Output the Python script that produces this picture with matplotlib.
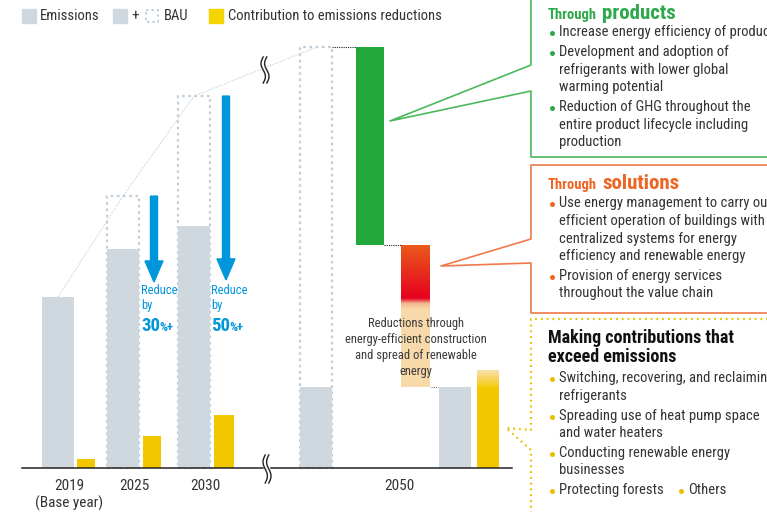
import numpy as np
import matplotlib
matplotlib.use("Agg")
import matplotlib.pyplot as plt
from matplotlib.patches import Rectangle
from matplotlib.colors import to_rgb

# --- data (index, 2019 emissions = 100) ---
years = ["2019", "2025", "2030", "2050"]
emissions = [100, 128, 141.5, 47.4]
bau = [None, 159, 217.5, 246]
contribution = [5.3, 18.7, 31, 57]
# 2050 waterfall of reductions from BAU
red_products = 115.6
red_solutions = 33.9
red_construction = 49.1
reduce_targets = ["30", "50"]

plt.rcParams["font.family"] = ["Roboto Condensed", "DejaVu Sans"]

GRAY = "#cfd8de"
YEL = "#f3c700"
BLUE = "#0096db"
GREEN = "#22a83a"
TXT = "#333333"

W, H = 767, 512
BASE = 468  # pixel row of the baseline
K = 1.71    # pixels per index unit

fig = plt.figure(figsize=(W / 100, H / 100), dpi=100)
ax = fig.add_axes([0, 0, 1, 1])
ax.set_xlim(0, W)
ax.set_ylim(-(H - BASE) / K, BASE / K)
ax.axis("off")

# bar columns (pixel x centres) for emission / contribution bars
gx = [58, 123, 194, 455]
yx = [86, 152, 224, 488]
gw = 32
yw = [18, 18, 20, 22]
bau_x = [None, 123, 194, 316]

# BAU dotted outlines
for i in range(1, 4):
    ax.bar(bau_x[i], bau[i], width=gw, fill=False, edgecolor="#c3ced7",
           linestyle=(0, (1.2, 1.6)), linewidth=1.6, zorder=1)

# trend line through BAU tops
tx = [gx[0]] + bau_x[1:]
ty = [emissions[0]] + bau[1:]
ax.plot(tx, ty, color="#c8d3dc", lw=0.9, ls=(0, (1, 1.2)), zorder=1)

# emission bars
ax.bar(gx[:3], emissions[:3], width=gw, color=GRAY, zorder=2)
ax.bar(bau_x[3], emissions[3], width=gw, color=GRAY, zorder=2)
ax.bar(gx[3], emissions[3], width=gw, color=GRAY, zorder=2)
# contribution bars
ax.bar(yx[:3], contribution[:3], width=yw[:3], color=YEL, zorder=2)
ax.bar(yx[3], emissions[3], width=yw[3], color=YEL, zorder=2)


def grad(c_list, n=200):
    # vertical gradient image from a list of (pos, colour) stops, top first
    pos = np.array([p for p, _ in c_list])
    cols = np.array([to_rgb(c) for _, c in c_list])
    t = np.linspace(0, 1, n)
    img = np.stack([np.interp(t, pos, cols[:, k]) for k in range(3)], axis=1)
    return img[:, None, :]


# 2050 yellow gradient top
ax.imshow(grad([(0, "#f9e0ae"), (1, "#f5cc10")]), aspect="auto",
          extent=(yx[3] - yw[3] / 2, yx[3] + yw[3] / 2, emissions[3], contribution[3]),
          zorder=2, interpolation="bilinear")

# waterfall 2050
top = bau[3]
ax.bar(370, -red_products, bottom=top, width=28, color=GREEN, zorder=2)
mid = top - red_products
low = mid - red_solutions
ax.imshow(grad([(0, "#ea5a1c"), (0.82, "#e6001e"), (0.9, "#f4b890"), (1, "#f8d9a9")]),
          aspect="auto", extent=(401, 430, low - 4, mid), zorder=2, interpolation="bilinear")
ax.bar(415.5, -(red_construction - 4), bottom=low - 4, width=29, color="#f8d9a9", zorder=2)

# dotted connectors
ax.plot([332, 356], [top, top], color="#222222", lw=0.8, ls=(0, (1, 1)), zorder=3)
ax.plot([384, 401], [mid, mid], color="#222222", lw=0.8, ls=(0, (1, 1)), zorder=3)
ax.plot([431, 438], [emissions[3], emissions[3]], color="#777777", lw=0.8, ls=(0, (1, 1)), zorder=3)

# blue arrows
arr_end = [108.8, 110]
for i, xa in zip([1, 2], [154, 226]):
    ax.arrow(xa, bau[i], 0, arr_end[i - 1] - bau[i], width=7, head_width=18,
             head_length=21 / K, length_includes_head=True, color=BLUE, zorder=3)

# baseline with break
ax.plot([22, 263], [0, 0], color="#222222", lw=1.1, zorder=3)
ax.plot([271, 512], [0, 0], color="#222222", lw=1.1, zorder=3)

# ---- overlay in pixel coordinates ----
ov = fig.add_axes([0, 0, 1, 1])
ov.set_xlim(0, W)
ov.set_ylim(H, 0)
ov.axis("off")
ov.patch.set_alpha(0)


def brk(x0, y0, h=26):
    yy = np.linspace(y0 - h / 2, y0 + h / 2, 60)
    wob = 2.2 * np.sin((yy - y0) / h * 2 * np.pi)
    ov.fill_betweenx(yy, x0 - 2 + wob, x0 + 2 + wob, color="white", zorder=4)
    ov.plot(x0 - 1.8 + wob, yy, color="#222222", lw=1, zorder=5)
    ov.plot(x0 + 1.8 + wob, yy, color="#222222", lw=1, zorder=5)


brk(267, 469, 28)
brk(265, 70, 26)

# legend
ov.add_patch(Rectangle((22, 9), 14, 14, color=GRAY))
ov.text(40, 16, "Emissions", fontsize=10.5, color=TXT, va="center")
ov.add_patch(Rectangle((113, 9), 14, 14, color=GRAY))
ov.text(131, 16, "+", fontsize=11, color=TXT, va="center")
ov.add_patch(Rectangle((146, 10), 12, 12, fill=False, edgecolor="#c3ced7",
                       ls=(0, (1.2, 1.6)), lw=1.4))
ov.text(164, 16, "BAU", fontsize=10.5, color=TXT, va="center")
ov.add_patch(Rectangle((209, 9), 14, 14, color="#f5d400"))
ov.text(228, 16, "Contribution to emissions reductions", fontsize=10.5, color=TXT, va="center")

# reduce labels
for xl, pct in zip([141, 211], reduce_targets):
    ov.text(xl, 291, "Reduce", fontsize=9, color=BLUE, va="center")
    ov.text(xl, 306, "by", fontsize=9, color=BLUE, va="center")
    ov.text(xl, 331, pct, fontsize=13.5, color=BLUE, va="baseline", fontweight="bold")
    ov.text(xl + 18, 331, "%+", fontsize=9, color=BLUE, va="baseline", fontweight="bold")

# x labels
for xc, lab in zip([69, 134, 205, 399], years):
    ov.text(xc, 486, lab, fontsize=11, color=TXT, ha="center", va="center")
ov.text(69, 503, "(Base year)", fontsize=11, color=TXT, ha="center", va="center")

for yl, s in zip([323, 340, 356, 371], ["Reductions through", "energy-efficient construction",
                                        "and spread of renewable", "energy"]):
    ov.text(416, yl, s, fontsize=9, color="#3a3a3a", ha="center", va="center")

# callout frames
ov.plot([531, 531, 390, 531, 531, 770], [-2, 65, 121, 91, 157, 157], color="#4cb85c", lw=1.2)
ov.plot([770, 531, 531, 441, 531, 531, 770], [165, 165, 239, 266, 263, 313, 313],
        color="#ee7a4c", lw=1.2)
ov.plot([770, 531, 531, 506, 531, 531], [319, 319, 430, 428, 450, 515],
        color="#e8c000", lw=1.6, ls=(0, (0.8, 1.8)))

# right panel text
FS = 10.5


def bullets(lines, col):
    for y, s, b in lines:
        if b:
            ov.plot(552, y + 0.5, "o", ms=3.6, color=col, mec="none")
        ov.text(559, y, s, fontsize=FS, color=TXT, va="center")


ov.text(548, 19, "Through", fontsize=10.5, color="#2da84a", va="baseline", fontweight="bold")
ov.text(602, 19, "products", fontsize=15, color="#2da84a", va="baseline", fontweight="bold")
bullets([(32, "Increase energy efficiency of products", True),
         (52, "Development and adoption of", True),
         (70, "refrigerants with lower global", False),
         (87, "warming potential", False),
         (107, "Reduction of GHG throughout the", True),
         (125, "entire product lifecycle including", False),
         (142, "production", False)], "#2da84a")

ov.text(548, 189, "Through", fontsize=10.5, color="#ee6422", va="baseline", fontweight="bold")
ov.text(602, 189, "solutions", fontsize=15, color="#ee6422", va="baseline", fontweight="bold")
bullets([(203, "Use energy management to carry out", True),
         (221, "efficient operation of buildings with", False),
         (239, "centralized systems for energy", False),
         (256, "efficiency and renewable energy", False),
         (276, "Provision of energy services", True),
         (293, "throughout the value chain", False)], "#ee6422")

ov.text(548, 338, "Making contributions that", fontsize=13, color="#111111",
        va="center", fontweight="bold")
ov.text(548, 357, "exceed emissions", fontsize=13, color="#111111",
        va="center", fontweight="bold")
bullets([(378, "Switching, recovering, and reclaiming", True),
         (396, "refrigerants", False),
         (416, "Spreading use of heat pump space", True),
         (433, "and water heaters", False),
         (453, "Conducting renewable energy", True),
         (470, "businesses", False),
         (490, "Protecting forests", True)], "#e8c000")
ov.plot(681, 490.5, "o", ms=3.6, color="#e8c000", mec="none")
ov.text(688, 490, "Others", fontsize=FS, color=TXT, va="center")

fig.savefig("out.png", dpi=100)
